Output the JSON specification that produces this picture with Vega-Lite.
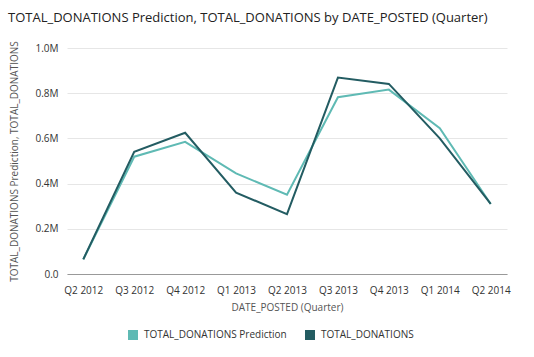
{
  "$schema": "https://vega.github.io/schema/vega-lite/v6.json",
  "width": 440,
  "height": 226,
  "autosize": {"type": "none"},
  "padding": {"left": 67, "top": 48, "right": 27, "bottom": 83},
  "background": "white",
  "config": {
    "font": "Open Sans",
    "view": {"stroke": null}
  },
  "title": {
    "text": "TOTAL_DONATIONS Prediction, TOTAL_DONATIONS by DATE_POSTED (Quarter)",
    "anchor": "start",
    "frame": "group",
    "dx": -59,
    "offset": 16,
    "fontSize": 13,
    "fontWeight": "normal",
    "color": "#222222",
    "font": "Open Sans"
  },
  "data": {
    "values": [
      {"quarter": "Q2 2012", "series": "TOTAL_DONATIONS Prediction", "value": 65000},
      {"quarter": "Q3 2012", "series": "TOTAL_DONATIONS Prediction", "value": 519000},
      {"quarter": "Q4 2012", "series": "TOTAL_DONATIONS Prediction", "value": 585000},
      {"quarter": "Q1 2013", "series": "TOTAL_DONATIONS Prediction", "value": 445000},
      {"quarter": "Q2 2013", "series": "TOTAL_DONATIONS Prediction", "value": 351000},
      {"quarter": "Q3 2013", "series": "TOTAL_DONATIONS Prediction", "value": 782000},
      {"quarter": "Q4 2013", "series": "TOTAL_DONATIONS Prediction", "value": 816000},
      {"quarter": "Q1 2014", "series": "TOTAL_DONATIONS Prediction", "value": 645000},
      {"quarter": "Q2 2014", "series": "TOTAL_DONATIONS Prediction", "value": 310000},
      {"quarter": "Q2 2012", "series": "TOTAL_DONATIONS", "value": 65000},
      {"quarter": "Q3 2012", "series": "TOTAL_DONATIONS", "value": 541000},
      {"quarter": "Q4 2012", "series": "TOTAL_DONATIONS", "value": 625000},
      {"quarter": "Q1 2013", "series": "TOTAL_DONATIONS", "value": 360000},
      {"quarter": "Q2 2013", "series": "TOTAL_DONATIONS", "value": 265000},
      {"quarter": "Q3 2013", "series": "TOTAL_DONATIONS", "value": 869000},
      {"quarter": "Q4 2013", "series": "TOTAL_DONATIONS", "value": 841000},
      {"quarter": "Q1 2014", "series": "TOTAL_DONATIONS", "value": 600000},
      {"quarter": "Q2 2014", "series": "TOTAL_DONATIONS", "value": 310000}
    ]
  },
  "mark": {"type": "line", "strokeWidth": 2},
  "encoding": {
    "x": {
      "field": "quarter",
      "type": "ordinal",
      "sort": null,
      "scale": {"type": "point", "padding": 0.32},
      "axis": {
        "title": "DATE_POSTED (Quarter)",
        "labelAngle": 0,
        "labelFontSize": 10,
        "labelColor": "#333333",
        "labelPadding": 11,
        "titleFontSize": 10,
        "titleFontWeight": "normal",
        "titleColor": "#555555",
        "titlePadding": 7,
        "ticks": false,
        "domainColor": "#999999",
        "grid": false
      }
    },
    "y": {
      "field": "value",
      "type": "quantitative",
      "scale": {"domain": [0, 1000000]},
      "axis": {
        "title": "TOTAL_DONATIONS Prediction, TOTAL_DONATIONS",
        "values": [0, 200000, 400000, 600000, 800000, 1000000],
        "labelExpr": "datum.value == 0 ? '0.0' : format(datum.value / 1000000, '.1f') + 'M'",
        "labelFontSize": 10,
        "labelColor": "#333333",
        "labelPadding": 9,
        "titleFontSize": 10,
        "titleFontWeight": "normal",
        "titleColor": "#555555",
        "titlePadding": 15,
        "ticks": false,
        "domain": false,
        "gridColor": "#e6e6e6"
      }
    },
    "color": {
      "field": "series",
      "type": "nominal",
      "scale": {
        "domain": ["TOTAL_DONATIONS Prediction", "TOTAL_DONATIONS"],
        "range": ["#5fbab4", "#235c62"]
      },
      "legend": {
        "title": null,
        "orient": "none",
        "legendX": 61,
        "legendY": 282,
        "direction": "horizontal",
        "symbolType": "square",
        "symbolSize": 16,
        "symbolStrokeWidth": 6,
        "labelFontSize": 10,
        "labelColor": "#333333",
        "labelOffset": 6,
        "columnPadding": 9
      }
    }
  }
}
